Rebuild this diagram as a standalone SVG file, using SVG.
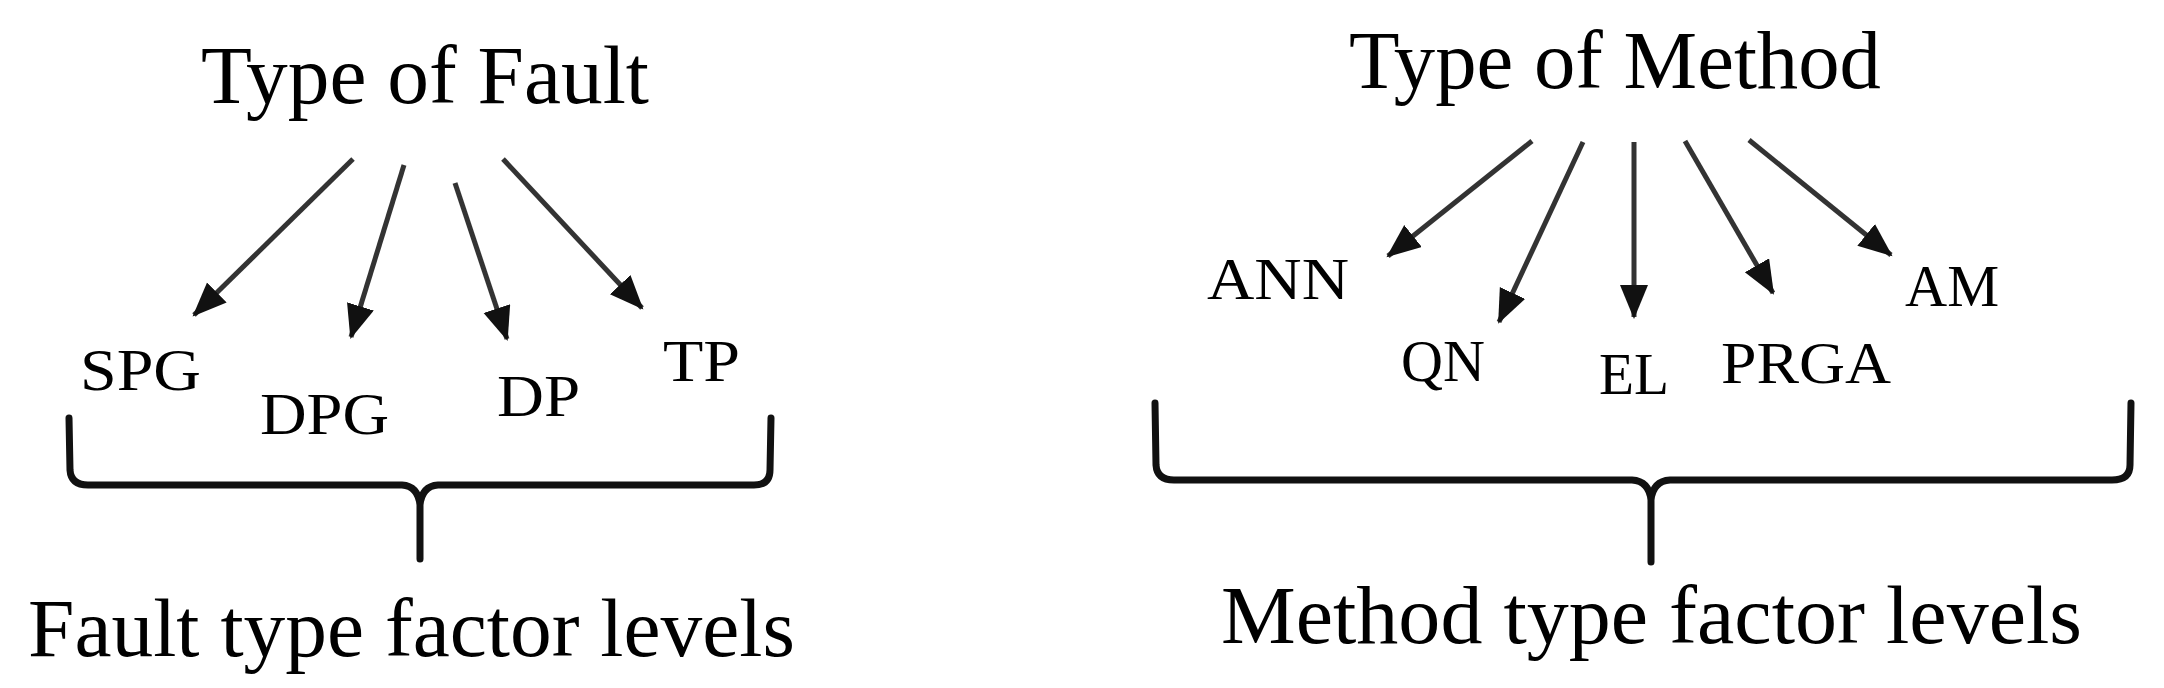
<svg xmlns="http://www.w3.org/2000/svg" width="2164" height="688" viewBox="0 0 2164 688">
<style>
text{font-family:"Liberation Serif","Times New Roman",serif;fill:#000}
.t{font-size:82px}
.l{font-size:60px}
.a{stroke:#333;stroke-width:5;fill:none;marker-end:url(#ah)}
.b{stroke:#111;stroke-width:7;fill:none;stroke-linecap:round;stroke-linejoin:round}
</style>
<defs>
<marker id="ah" markerUnits="userSpaceOnUse" markerWidth="36" markerHeight="32" refX="32" refY="14" orient="auto">
<path d="M0,0 L34,14 L0,28 Z" fill="#111"/>
</marker>
</defs>
<rect width="2164" height="688" fill="#fff"/>
<g id="fault-title"><text class="t" x="201" y="103" textLength="448" lengthAdjust="spacingAndGlyphs">Type of Fault</text></g>
<g id="spg"><text class="l" x="80" y="390" textLength="121" lengthAdjust="spacingAndGlyphs">SPG</text></g>
<g id="dpg"><text class="l" x="260" y="434" textLength="129" lengthAdjust="spacingAndGlyphs">DPG</text></g>
<g id="dp"><text class="l" x="497" y="416" textLength="83" lengthAdjust="spacingAndGlyphs">DP</text></g>
<g id="tp"><text class="l" x="663" y="381" textLength="77" lengthAdjust="spacingAndGlyphs">TP</text></g>
<g id="fault-levels"><text class="t" x="28" y="656" textLength="767" lengthAdjust="spacingAndGlyphs">Fault type factor levels</text></g>
<g id="method-title"><text class="t" x="1349" y="88" textLength="532" lengthAdjust="spacingAndGlyphs">Type of Method</text></g>
<g id="ann"><text class="l" x="1207" y="299" textLength="142" lengthAdjust="spacingAndGlyphs">ANN</text></g>
<g id="qn"><text class="l" x="1401" y="381" textLength="84" lengthAdjust="spacingAndGlyphs">QN</text></g>
<g id="el"><text class="l" x="1599" y="394" textLength="70" lengthAdjust="spacingAndGlyphs">EL</text></g>
<g id="prga"><text class="l" x="1721" y="383" textLength="170" lengthAdjust="spacingAndGlyphs">PRGA</text></g>
<g id="am"><text class="l" x="1905" y="306" textLength="94" lengthAdjust="spacingAndGlyphs">AM</text></g>
<g id="method-levels"><text class="t" x="1221" y="643" textLength="861" lengthAdjust="spacingAndGlyphs">Method type factor levels</text></g>
<g id="connectors">
<line class="a" x1="353" y1="159" x2="194" y2="315"/>
<line class="a" x1="404" y1="165" x2="351" y2="337"/>
<line class="a" x1="455" y1="183" x2="507" y2="339"/>
<line class="a" x1="503" y1="159" x2="642" y2="308"/>
<line class="a" x1="1532" y1="141" x2="1388" y2="256"/>
<line class="a" x1="1583" y1="142" x2="1499" y2="322"/>
<line class="a" x1="1634" y1="142" x2="1634" y2="317"/>
<line class="a" x1="1685" y1="141" x2="1773" y2="293"/>
<line class="a" x1="1749" y1="140" x2="1891" y2="255"/>
<path class="b" d="M69,418 L70,470 Q71,485 88,485 L402,485 Q418,486 420,505 L420,559 M420,505 Q422,486 438,485 L754,485 Q770,485 770,470 L771,418"/>
<path class="b" d="M1155,403 L1156,465 Q1157,480 1174,480 L1632,480 Q1649,481 1651,500 L1651,562 M1651,500 Q1653,481 1670,480 L2112,480 Q2130,480 2130,465 L2131,403"/>
</g>
</svg>
